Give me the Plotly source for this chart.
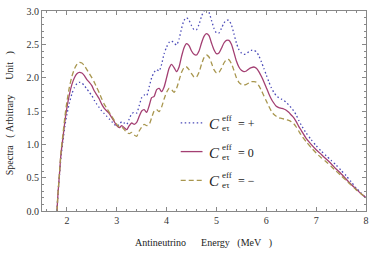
import plotly.graph_objects as go

energy = [1.80, 1.82, 1.85, 1.88, 1.92, 1.96, 2.00, 2.05, 2.10, 2.15, 2.20, 2.25, 2.30, 2.35, 2.40,
          2.45, 2.50, 2.55, 2.60, 2.65, 2.70, 2.75, 2.80, 2.85, 2.90, 2.95, 3.00, 3.05, 3.10, 3.15,
          3.20, 3.25, 3.30, 3.35, 3.40, 3.45, 3.50, 3.55, 3.60, 3.65, 3.70, 3.75, 3.80, 3.85, 3.90,
          3.95, 4.00, 4.05, 4.10, 4.15, 4.20, 4.25, 4.30, 4.35, 4.40, 4.45, 4.50, 4.55, 4.60, 4.65,
          4.70, 4.75, 4.80, 4.85, 4.90, 4.95, 5.00, 5.05, 5.10, 5.15, 5.20, 5.25, 5.30, 5.35, 5.40,
          5.45, 5.50, 5.55, 5.60, 5.65, 5.70, 5.75, 5.80, 5.85, 5.90, 5.95, 6.00, 6.05, 6.10, 6.15,
          6.20, 6.25, 6.30, 6.35, 6.40, 6.45, 6.50, 6.55, 6.60, 6.65, 6.70, 6.80, 6.90, 7.00, 7.10,
          7.20, 7.30, 7.40, 7.50, 7.60, 7.70, 7.80, 7.90, 8.00]

spec_plus = [0.0, 0.25, 0.53, 0.80, 1.05, 1.28, 1.45, 1.62, 1.76, 1.85, 1.91, 1.93, 1.92, 1.88, 1.83,
             1.78, 1.73, 1.66, 1.60, 1.55, 1.50, 1.46, 1.42, 1.38, 1.34, 1.30, 1.27, 1.30, 1.34, 1.32,
             1.30, 1.38, 1.46, 1.48, 1.47, 1.58, 1.70, 1.74, 1.73, 1.86, 2.00, 2.08, 2.12, 2.10, 2.20,
             2.36, 2.46, 2.53, 2.55, 2.52, 2.49, 2.58, 2.74, 2.86, 2.90, 2.86, 2.78, 2.72, 2.72, 2.80,
             2.92, 3.00, 3.03, 2.98, 2.86, 2.74, 2.67, 2.67, 2.74, 2.82, 2.86, 2.86, 2.79, 2.66, 2.52,
             2.42, 2.37, 2.35, 2.36, 2.39, 2.41, 2.41, 2.39, 2.33, 2.24, 2.14, 2.04, 1.94, 1.85, 1.78,
             1.73, 1.70, 1.68, 1.66, 1.63, 1.59, 1.55, 1.50, 1.44, 1.36, 1.29, 1.17, 1.07, 0.98, 0.90,
             0.83, 0.76, 0.69, 0.61, 0.53, 0.44, 0.35, 0.27, 0.20]

spec_zero = [0.0, 0.25, 0.55, 0.85, 1.10, 1.35, 1.55, 1.75, 1.90, 2.00, 2.06, 2.08, 2.07, 2.03, 1.97,
             1.93, 1.88, 1.80, 1.74, 1.68, 1.60, 1.54, 1.50, 1.46, 1.40, 1.34, 1.28, 1.25, 1.28, 1.25,
             1.22, 1.28, 1.32, 1.30, 1.33, 1.42, 1.50, 1.52, 1.48, 1.58, 1.70, 1.72, 1.82, 1.84, 1.79,
             1.86, 2.00, 2.14, 2.20, 2.15, 2.09, 2.16, 2.32, 2.45, 2.51, 2.48, 2.40, 2.35, 2.34, 2.40,
             2.52, 2.62, 2.66, 2.63, 2.52, 2.42, 2.36, 2.37, 2.44, 2.52, 2.56, 2.56, 2.50, 2.38, 2.25,
             2.16, 2.11, 2.09, 2.10, 2.13, 2.15, 2.16, 2.14, 2.09, 2.02, 1.94, 1.85, 1.76, 1.68, 1.62,
             1.57, 1.55, 1.54, 1.53, 1.51, 1.48, 1.44, 1.40, 1.34, 1.27, 1.21, 1.09, 1.00, 0.92, 0.85,
             0.78, 0.71, 0.63, 0.56, 0.48, 0.40, 0.33, 0.26, 0.20]

spec_minus = [0.0, 0.26, 0.56, 0.88, 1.15, 1.42, 1.64, 1.86, 2.02, 2.13, 2.20, 2.23, 2.22, 2.18, 2.12,
              2.06, 2.00, 1.93, 1.85, 1.77, 1.68, 1.60, 1.54, 1.48, 1.42, 1.36, 1.30, 1.26, 1.26, 1.22,
              1.18, 1.16, 1.18, 1.14, 1.12, 1.20, 1.26, 1.30, 1.28, 1.30, 1.40, 1.50, 1.52, 1.49, 1.56,
              1.68, 1.78, 1.84, 1.82, 1.78, 1.84, 1.96, 2.08, 2.15, 2.16, 2.12, 2.06, 2.01, 2.01, 2.08,
              2.20, 2.30, 2.34, 2.31, 2.22, 2.12, 2.07, 2.08, 2.14, 2.22, 2.27, 2.27, 2.21, 2.11, 2.00,
              1.93, 1.90, 1.89, 1.90, 1.92, 1.94, 1.94, 1.93, 1.88, 1.81, 1.73, 1.65, 1.57, 1.50, 1.45,
              1.42, 1.40, 1.39, 1.38, 1.37, 1.36, 1.34, 1.31, 1.26, 1.20, 1.14, 1.04, 0.95, 0.87, 0.80,
              0.74, 0.67, 0.60, 0.53, 0.46, 0.39, 0.32, 0.26, 0.20]

series_names = ["+", "0", "\u2212"]
x_ticks = [2, 3, 4, 5, 6, 7, 8]
y_ticks = [0.0, 0.5, 1.0, 1.5, 2.0, 2.5, 3.0]
y_tick_text = ["0.0", "0.5", "1.0", "1.5", "2.0", "2.5", "3.0"]

W, H = 374, 253
ML, MR, MT, MB = 42, 5, 9, 42
PW, PH = W - ML - MR, H - MT - MB

def px(xp):
    return (xp - ML) / PW

def py(yp):
    return 1 - (yp - MT) / PH

SERIF = "Liberation Serif"
colors = ["#4a4ab8", "#a33f72", "#a8964e"]
dashes = ["1.5px,2.5px", "solid", "5px,3px"]

fig = go.Figure()
for ys, c, d in zip([spec_plus, spec_zero, spec_minus], colors, dashes):
    fig.add_trace(go.Scatter(x=energy, y=ys, mode="lines",
                             line=dict(color=c, width=1.3, dash=d, shape="spline", smoothing=0.6),
                             showlegend=False, hoverinfo="skip"))

axis_common = dict(showline=True, linecolor="#888888", linewidth=1, mirror="ticks",
                   ticks="inside", ticklen=4, tickcolor="#888888", showgrid=False, zeroline=False,
                   ticklabeloverflow="allow",
                   tickfont=dict(family=SERIF, size=10, color="#333333"))

fig.update_xaxes(range=[1.5, 8], tickvals=x_ticks,
                 minor=dict(dtick=0.2, tick0=1.6, ticks="inside", ticklen=2, tickcolor="#888888"),
                 **axis_common)
fig.update_yaxes(range=[0, 3], tickvals=y_ticks, ticktext=y_tick_text,
                 minor=dict(dtick=0.1, ticks="inside", ticklen=2, tickcolor="#888888"),
                 **axis_common)

annotations = [
    dict(text="Antineutrino&nbsp;&nbsp;&nbsp;&nbsp;&nbsp;&nbsp;Energy&nbsp;&nbsp;&nbsp;(MeV&nbsp;&nbsp;&nbsp;)",
         x=px(205), y=py(243), xref="paper", yref="paper", showarrow=False,
         font=dict(family=SERIF, size=10, color="#222222"), xanchor="center", yanchor="middle"),
    dict(text="Spectra&nbsp;&nbsp;&nbsp;(&nbsp;Arbitrary&nbsp;&nbsp;&nbsp;&nbsp;&nbsp;&nbsp;Unit&nbsp;&nbsp;&nbsp;)",
         x=px(10), y=py(112), xref="paper", yref="paper", showarrow=False, textangle=-90,
         font=dict(family=SERIF, size=10, color="#222222"), xanchor="center", yanchor="middle"),
]

shapes = []
rows = [122, 151, 180]
for name, c, d, yr in zip(series_names, colors, dashes, rows):
    shapes.append(dict(type="line", xref="paper", yref="paper", x0=px(182), x1=px(204),
                       y0=py(yr), y1=py(yr), line=dict(color=c, width=1.3, dash=d)))
    annotations.append(dict(text="<i>C</i>", x=px(209), y=py(yr + 1), xref="paper", yref="paper",
                            showarrow=False, xanchor="left", yanchor="middle",
                            font=dict(family=SERIF, size=15, color="#222222")))
    annotations.append(dict(text="eff", x=px(222), y=py(yr - 5), xref="paper", yref="paper",
                            showarrow=False, xanchor="left", yanchor="middle",
                            font=dict(family=SERIF, size=9, color="#222222")))
    annotations.append(dict(text="e\u03c4", x=px(222), y=py(yr + 5), xref="paper", yref="paper",
                            showarrow=False, xanchor="left", yanchor="middle",
                            font=dict(family=SERIF, size=9, color="#222222")))
    annotations.append(dict(text="= " + name, x=px(238), y=py(yr + 1), xref="paper", yref="paper",
                            showarrow=False, xanchor="left", yanchor="middle",
                            font=dict(family=SERIF, size=12, color="#222222")))

fig.update_layout(width=W, height=H, margin=dict(l=ML, r=MR, t=MT, b=MB),
                  paper_bgcolor="white", plot_bgcolor="white",
                  annotations=annotations, shapes=shapes)

fig.write_html("out.html", config={"displayModeBar": False},
               post_script="document.body.style.margin='0';document.body.style.overflow='hidden';")
